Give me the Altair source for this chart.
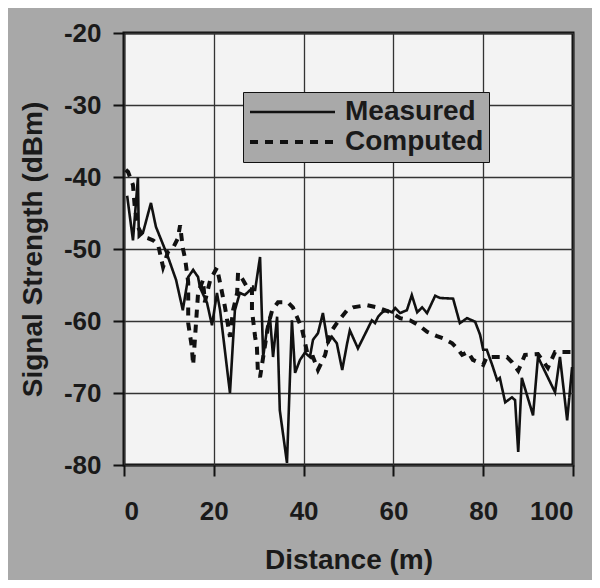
import altair as alt
import pandas as pd

# Measured signal (solid line)
meas_x = [0.7, 2.0, 3.1, 3.3, 4.2, 6.0, 7.1, 8.0, 9.8, 11.6, 13.1, 14.3, 15.4, 16.5, 16.9,
          18.5, 19.6, 20.7, 21.4, 23.6, 24.3, 24.7, 25.8, 26.9, 28.1, 29.2, 30.3, 31.0, 31.8,
          32.5, 33.2, 34.1, 34.7, 36.3, 37.4, 38.1, 39.2, 40.3, 41.4, 42.1, 43.2, 44.3, 45.4,
          46.3, 47.4, 48.6, 49.7, 50.3, 52.1, 54.1, 55.2, 55.9, 56.6, 57.5, 58.6, 59.7, 60.4,
          61.5, 63.0, 64.1, 65.3, 66.4, 67.5, 69.3, 70.4, 73.3, 74.8, 76.4, 78.2, 79.3, 80.0,
          80.8, 82.0, 83.1, 83.7, 84.9, 86.4, 87.1, 87.8, 88.6, 91.1, 92.2, 96.0, 97.1, 98.7, 99.8]
meas_y = [-42.6, -48.8, -40.1, -48.3, -47.8, -43.6, -46.9, -48.3, -51.1, -54.3, -58.5, -53.9,
          -52.9, -53.9, -55.3, -57.5, -60.6, -56.1, -58.5, -70.0, -62.6, -58.5, -56.1, -56.4,
          -55.7, -55.7, -51.1, -65.0, -61.3, -59.4, -65.0, -59.4, -72.4, -79.7, -59.9, -67.2,
          -65.4, -64.4, -65.0, -62.6, -61.7, -58.9, -63.1, -62.2, -63.1, -66.8, -63.1, -61.3,
          -63.8, -61.3, -59.9, -60.3, -59.4, -58.8, -58.5, -58.8, -58.2, -58.9, -58.5, -56.4,
          -58.8, -58.1, -58.9, -56.5, -56.8, -56.9, -60.3, -59.6, -60.1, -61.9, -64.0, -64.0,
          -66.1, -68.2, -67.9, -71.3, -70.6, -71.0, -78.2, -67.9, -73.1, -65.0, -69.9, -65.0,
          -73.8, -66.4]

# Computed signal (dashed line)
comp_x = [0.4, 0.9, 2.0, 2.4, 3.1, 4.2, 5.3, 6.5, 7.6, 8.2, 8.7, 9.8, 10.9, 12.0, 12.5, 13.1,
          13.6, 14.3, 14.3, 15.1, 15.4, 16.5, 17.6, 18.0, 19.2, 20.7, 21.4, 22.5, 23.6, 24.3,
          25.2, 25.4, 26.5, 27.4, 28.5, 28.5, 29.2, 29.6, 29.8, 30.3, 31.0, 32.1, 33.0, 34.3,
          36.5, 37.6, 38.5, 39.6, 40.8, 41.4, 42.1, 43.2, 44.8, 45.9, 47.4, 49.7, 51.0, 54.1,
          56.3, 58.1, 59.7, 61.5, 63.7, 65.9, 67.5, 69.7, 71.0, 73.1, 74.2, 75.3, 76.6, 77.7,
          78.8, 80.0, 80.8, 82.6, 85.3, 86.4, 87.8, 89.3, 92.2, 94.4, 96.0, 100.0]
comp_y = [-39.0, -39.3, -41.1, -44.2, -46.9, -48.3, -48.5, -48.8, -49.4, -51.1, -52.5, -50.4,
          -49.9, -48.5, -46.7, -49.9, -51.3, -54.6, -60.3, -63.6, -66.1, -56.1, -54.3, -57.4,
          -54.3, -52.6, -54.7, -58.1, -62.2, -58.5, -56.1, -53.3, -54.3, -55.3, -55.3, -58.5,
          -62.2, -63.6, -66.8, -67.8, -65.0, -60.6, -58.5, -57.4, -57.4, -58.1, -59.4, -61.0,
          -64.4, -65.1, -65.0, -66.8, -64.7, -61.7, -60.3, -58.5, -58.1, -57.8, -58.1, -58.5,
          -58.9, -59.6, -59.9, -60.7, -61.5, -62.1, -62.4, -63.1, -63.8, -64.7, -64.3, -65.4,
          -65.7, -66.1, -65.0, -65.0, -65.0, -65.7, -66.9, -64.7, -64.6, -66.5, -64.3, -64.3]

series_names = ["Measured", "Computed"]
x_ticks = [0, 20, 40, 60, 80, 100]
y_ticks = [-80, -70, -60, -50, -40, -30, -20]

df = pd.concat([
    pd.DataFrame({"d": meas_x, "s": meas_y, "series": series_names[0], "i": range(len(meas_x))}),
    pd.DataFrame({"d": comp_x, "s": comp_y, "series": series_names[1], "i": range(len(comp_x))}),
])

FONT = "Liberation Sans"
LABEL_EXPR = "'' + datum.value"

chart = alt.Chart(df).mark_line(color="#111111", strokeCap="butt").encode(
    x=alt.X("d:Q", scale=alt.Scale(domain=[0, 100], nice=False),
            axis=alt.Axis(values=x_ticks, title="Distance (m)", labelPadding=22,
                          titlePadding=22, labelExpr=LABEL_EXPR)),
    y=alt.Y("s:Q", scale=alt.Scale(domain=[-80, -20], nice=False),
            axis=alt.Axis(values=y_ticks, title="Signal Strength (dBm)", labelPadding=12,
                          titlePadding=16, labelExpr=LABEL_EXPR)),
    order=alt.Order("i:Q"),
    detail="series:N",
    strokeDash=alt.StrokeDash("series:N",
        scale=alt.Scale(domain=series_names, range=[[1, 0], [8, 7]]),
        legend=alt.Legend(title=None, orient="none", legendX=119, legendY=59,
                          symbolType="stroke", symbolSize=7225, symbolStrokeColor="#111111",
                          labelFontSize=28, labelFont=FONT, labelFontWeight="bold",
                          labelColor="#1a1a1a", fillColor="#a9a9a9", strokeColor="#111111",
                          padding=5, rowPadding=0, clipHeight=30, labelOffset=8)),
    strokeWidth=alt.StrokeWidth("series:N",
        scale=alt.Scale(domain=series_names, range=[2.6, 4]),
        legend=None),
).properties(
    width=449, height=432,
    padding={"left": 116, "top": 25, "right": 19, "bottom": 115},
    autosize="none",
    background="#a8a8a8",
).configure_view(
    stroke="#111111", strokeWidth=3, fill="#f3f3f3"
).configure_axis(
    grid=True, gridColor="#333333", gridWidth=1.3, gridOpacity=1,
    domain=False, tickSize=11, tickWidth=2, tickColor="#111111",
    labelFont=FONT, labelFontSize=26, labelFontWeight="bold", labelColor="#1a1a1a",
    titleFont=FONT, titleFontSize=28, titleFontWeight="bold", titleColor="#1a1a1a",
)

chart.save("out.html", embed_options={"renderer": "svg", "actions": False})
